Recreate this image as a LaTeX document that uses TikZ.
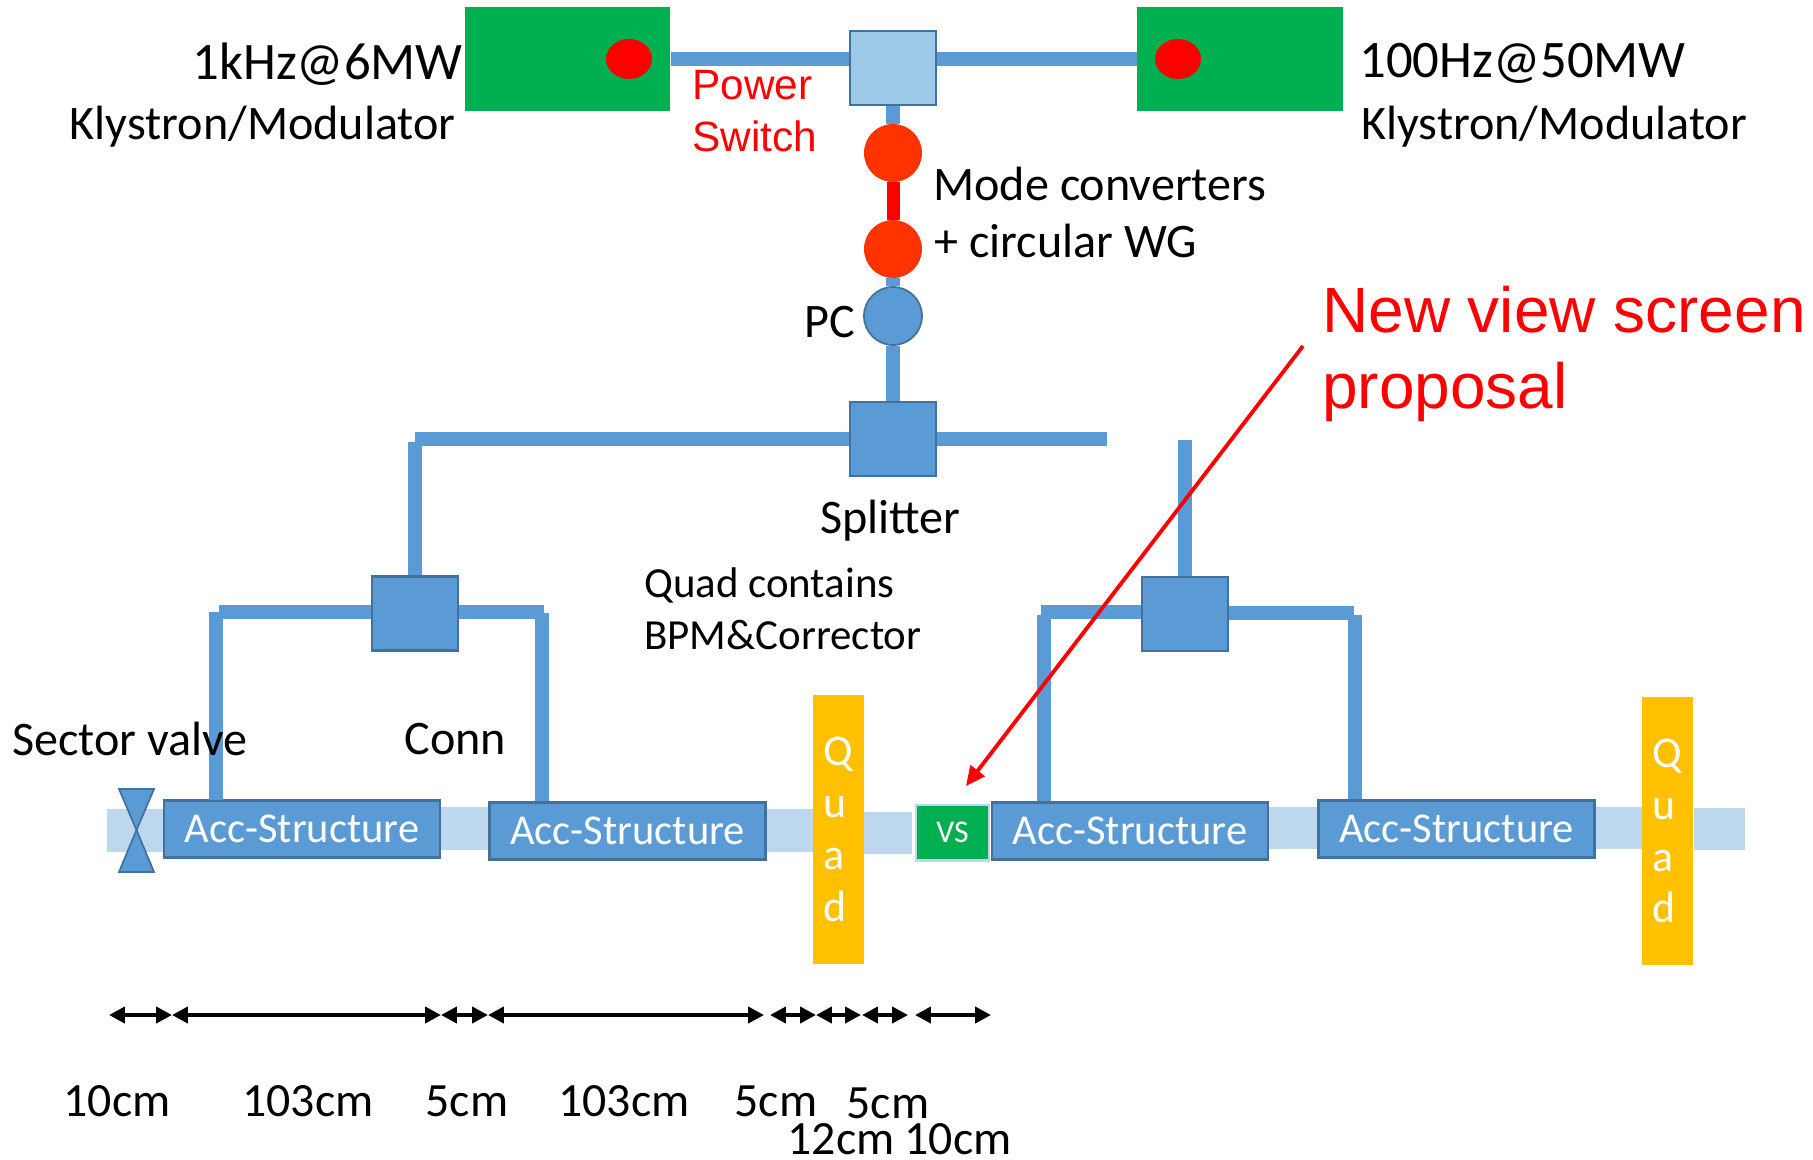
\documentclass[tikz,border=0pt]{standalone}
\usepackage{fontspec}
\setmainfont{Carlito}
\newfontfamily\arialfont{Liberation Sans}
\usetikzlibrary{positioning, arrows.meta, shapes.geometric}

\definecolor{wgblue}{HTML}{5B9BD5}
\definecolor{edgeblue}{HTML}{41719C}
\definecolor{pipeblue}{HTML}{BDD7EE}
\definecolor{switchblue}{HTML}{9DC9E9}
\definecolor{klygreen}{HTML}{00B050}
\definecolor{quadgold}{HTML}{FFC000}
\definecolor{modered}{HTML}{FF3300}

\begin{document}
\begin{tikzpicture}[
    x=0.02cm, y=-0.02cm,
    wg/.style={line width=7.8pt, wgblue},
    wgthin/.style={line width=7.6pt, wgblue},
    klystron/.style={rectangle, fill=klygreen, minimum width=4.12cm, minimum height=2.08cm},
    spot/.style={ellipse, fill=red, minimum width=0.92cm, minimum height=0.8cm, inner sep=0pt},
    modeconv/.style={ellipse, fill=modered, minimum width=1.16cm, minimum height=1.16cm, inner sep=0pt},
    splitbox/.style={rectangle, draw=edgeblue, line width=1.2pt, fill=wgblue, minimum width=1.72cm, minimum height=1.48cm, inner sep=0pt},
    pipe/.style={fill=pipeblue},
    acc/.style={rectangle, draw=edgeblue, line width=1.5pt, fill=wgblue, text=white, minimum width=5.52cm, minimum height=1.15cm, inner sep=0pt, font=\fontsize{24.2}{28}\selectfont},
    quad/.style={rectangle, fill=quadgold, text=white, minimum width=1.02cm, minimum height=5.38cm, align=left, inner sep=0pt, font=\fontsize{25}{29.5}\selectfont},
    lbl/.style={inner sep=0pt, anchor=west, font=\fontsize{27.4}{32}\selectfont},
    ratelbl/.style={lbl, font=\fontsize{30}{36}\selectfont},
    redlbl/.style={lbl, text=red, font=\arialfont\fontsize{24.1}{28}\selectfont},
    biglbl/.style={lbl, text=red, font=\arialfont\fontsize{36.4}{42}\selectfont},
    quadlbl/.style={lbl, font=\fontsize{24.4}{29}\selectfont},
    dim/.style={{Triangle[length=9pt,width=9pt]}-{Triangle[length=9pt,width=9pt]}, line width=2.6pt},
    dimlbl/.style={inner sep=0pt, font=\fontsize{27.2}{32}\selectfont}
]
\useasboundingbox (0,0) rectangle (1813,1160);

% Beam pipe
\fill[pipe] (107,809) rectangle (165,852);
\fill[pipe] (441,807) rectangle (491,850);
\fill[pipe] (763,809) rectangle (814,852);
\fill[pipe] (861,812) rectangle (912,854);
\fill[pipe] (1269,807) rectangle (1320,849);
\fill[pipe] (1591,807) rectangle (1642,849);
\fill[pipe] (1694,808) rectangle (1745,850);

% Klystrons
\node[klystron] (klyL) at (567.5,59) {};
\node[klystron] (klyR) at (1240,59) {};

% Splitters and switch
\node[splitbox, fill=switchblue] (switch) at (893,68) {};
\node[splitbox] (split) at (893,439) {};
\node[splitbox] (splitL) at (415,613.5) {};
\node[splitbox] (splitR) at (1185,614) {};

% Mode converters, PC
\node[modeconv] (mc1) at (893,153) {};
\node[modeconv] (mc2) at (893,249) {};
\node[ellipse, draw=edgeblue, line width=1pt, fill=wgblue, minimum width=1.16cm, minimum height=1.16cm, inner sep=0pt] (pc) at (893,316) {};

% Acc structures
\node[acc] (acc1) at (302,829) {Acc-Structure};
\node[acc] (acc2) at (627.5,831) {Acc-Structure};
\node[acc] (acc3) at (1130,831) {Acc-Structure};
\node[acc] (acc4) at (1456.5,829) {Acc-Structure};

% Quads and view screen
\node[quad] (quad1) at (838,829.5) {Q\\u\\a\\d};
\node[quad] (quad2) at (1667,831) {Q\\u\\a\\d};
\node[rectangle, draw=pipeblue, line width=1.5pt, fill=klygreen, text=white, minimum width=1.46cm, minimum height=1.11cm, inner sep=0pt, font=\fontsize{18}{22}\selectfont] (vs) at (952.5,832.7) {VS};

% Sector valve
\coordinate (valve) at (136.5,830);
\fill[wgblue, draw=edgeblue, line width=1pt] (119,789) -- (154,789) -- (valve) -- cycle;
\fill[wgblue, draw=edgeblue, line width=1pt] (119,872) -- (154,872) -- (valve) -- cycle;

% Spots on top of klystrons
\node[spot] (spotL) at (629,59) {};
\node[spot] (spotR) at (1178,59) {};

% Waveguides
\draw[wg] (klyL.east |- spotL) -- (switch.west |- spotL);
\draw[wg] (switch.east |- spotR) -- (klyR.west |- spotR);
\draw[wgthin] (switch) -- (mc1);
\draw[line width=7.4pt, red] (mc1) -- (mc2);
\draw[wgthin] (mc2) -- (pc);
\draw[wgthin] (pc) -- (split);
\coordinate (endR) at (1107,439);
\draw[wg] (split.east) -- (endR);
\coordinate (cornerL) at (415,439);
\draw[wg] (split.west) -- (cornerL);
\coordinate (dropL) at (415,442);
\draw[wgthin] (dropL) -- (splitL);
\coordinate (topR) at (1185,440);
\draw[wgthin] (topR) -- (splitR);

% Feeds to structures
\coordinate (armA) at (219,612);
\coordinate (armB) at (544,612);
\coordinate (armC) at (1041,612);
\coordinate (armD) at (1354,613);
\coordinate (feedA) at (216,612);
\coordinate (feedB) at (542,613);
\coordinate (feedC) at (1044,615);
\coordinate (feedD) at (1355,615);
\coordinate (inA) at (216,800);
\coordinate (inB) at (542,801);
\coordinate (inC) at (1044,801);
\coordinate (inD) at (1355,799);
\draw[wg] (splitL.west |- armA) -- (armA);
\draw[wg] (splitL.east |- armB) -- (armB);
\draw[wg] (splitR.west |- armC) -- (armC);
\draw[wg] (splitR.east |- armD) -- (armD);
\draw[wgthin] (feedA) -- (inA);
\draw[wgthin] (feedB) -- (inB);
\draw[wgthin] (feedC) -- (inC);
\draw[wgthin] (feedD) -- (inD);

% Labels
\node[ratelbl, anchor=east] (rateL) at (463,64) {1kHz@6MW};
\node[lbl, anchor=east] (nameL) at (456,127) {Klystron/Modulator};
\node[ratelbl] (rateR) at (1359,63) {100Hz@50MW};
\node[lbl] (nameR) at (1361,127) {Klystron/Modulator};
\node[redlbl] (pwr) at (692,85) {Power};
\node[redlbl] (swt) at (692,136) {Switch};
\node[lbl] (mode) at (933,184) {Mode converters};
\node[lbl] (wgtext) at (934,241) {+ circular WG};
\node[lbl, anchor=east] (pclabel) at (855,322) {PC};
\node[lbl] (spl) at (820,521) {Splitter};
\node[quadlbl] (qc1) at (644,585) {Quad contains};
\node[quadlbl] (qc2) at (644,635) {BPM\&Corrector};
\node[lbl] (sv) at (12,739) {Sector valve};
\node[lbl] (conn) at (404,739) {Conn};
\node[biglbl] (news) at (1322,310) {New view screen};
\node[biglbl] (prop) at (1322,392) {proposal};

% New view screen arrow
\coordinate (arrowstart) at (1303,346);
\coordinate (arrowend) at (966,786);
\draw[-{Triangle[length=11pt,width=10pt]}, line width=2.2pt, red] (arrowstart) -- (arrowend);

% Dimensions
\foreach \xa/\xb/\nm in {109/172/d1, 172/441/d2, 441/488/d3, 488/764/d4, 770/816/d5, 816/861/d6, 862/908/d7, 915/991/d8} {
    \coordinate (\nm a) at (\xa,1015);
    \coordinate (\nm b) at (\xb,1015);
    \draw[dim] (\nm a) -- (\nm b);
}
\node[dimlbl] (t1) at (117,1101) {10cm};
\node[dimlbl] (t2) at (308,1101) {103cm};
\node[dimlbl] (t3) at (467,1101) {5cm};
\node[dimlbl] (t4) at (624,1101) {103cm};
\node[dimlbl] (t5) at (776,1101) {5cm};
\node[dimlbl] (t6) at (888,1103) {5cm};
\node[dimlbl] (t7) at (841,1139) {12cm};
\node[dimlbl] (t8) at (958,1139) {10cm};

\end{tikzpicture}
\end{document}
